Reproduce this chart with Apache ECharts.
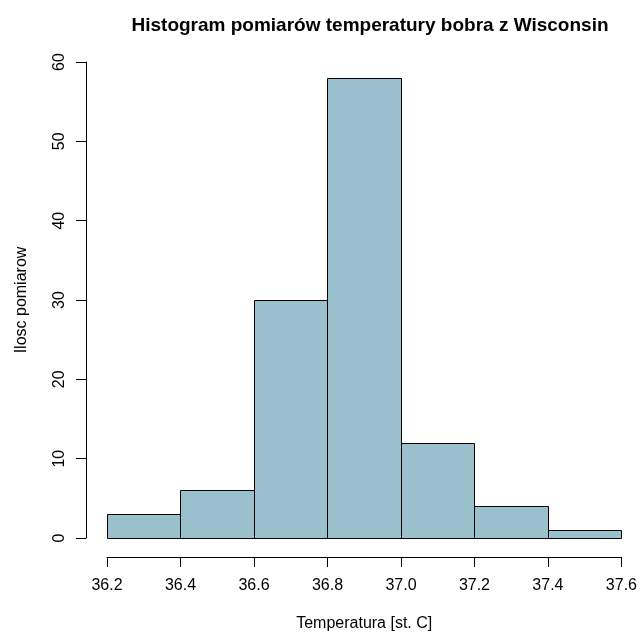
<!DOCTYPE html>
<html><head><meta charset="utf-8">
<script src="https://cdn.jsdelivr.net/npm/echarts@6/dist/echarts.min.js"></script>
<style>html,body{margin:0;padding:0;background:#fff}#c{width:640px;height:637px}</style>
</head><body><div id="c"></div>
<script>
var binStarts = [36.2, 36.4, 36.6, 36.8, 37.0, 37.2, 37.4];
var binEnds   = [36.4, 36.6, 36.8, 37.0, 37.2, 37.4, 37.6];
var counts    = [3, 6, 30, 58, 12, 4, 1];
var xTicks = [36.2, 36.4, 36.6, 36.8, 37.0, 37.2, 37.4, 37.6];
var yTicks = [0, 10, 20, 30, 40, 50, 60];
var titleText = 'Histogram pomiarów temperatury bobra z Wisconsin';
var xName = 'Temperatura [st. C]';
var yName = 'Ilosc pomiarow';

var data = binStarts.map(function(s, i){ return [s, binEnds[i], counts[i]]; });
var font = 'Liberation Sans, Arial, sans-serif';
var chart = echarts.init(document.getElementById('c'), null, {renderer:'canvas'});
chart.setOption({
  animation: false,
  backgroundColor: '#fff',
  title: {text: titleText, left: 365, top: 11, textAlign: 'center',
    textStyle: {fontFamily: font, fontSize: 19, fontWeight: 'bold', color: '#000'}},
  grid: {left: 107, right: 17, top: 62, bottom: 96},
  xAxis: {type: 'value', min: xTicks[0], max: xTicks[xTicks.length-1], interval: 0.2,
    offset: 19,
    name: xName, nameLocation: 'middle', nameGap: 59,
    nameTextStyle: {fontFamily: font, fontSize: 16, color: '#000'},
    axisLine: {show: true, onZero: false, lineStyle: {color: '#000', width: 1}},
    axisTick: {show: true, length: 10, lineStyle: {color: '#000'}},
    splitLine: {show: false},
    axisLabel: {fontFamily: font, fontSize: 16, color: '#000', margin: 21,
      showMinLabel: true, showMaxLabel: true, hideOverlap: false,
      formatter: function(v){ return v.toFixed(1); }}
  },
  yAxis: {type: 'value', min: yTicks[0], max: yTicks[yTicks.length-1], interval: 10,
    offset: 21,
    name: yName, nameLocation: 'middle', nameGap: 56, nameRotate: 90,
    nameTextStyle: {fontFamily: font, fontSize: 16, color: '#000'},
    axisLine: {show: true, onZero: false, lineStyle: {color: '#000', width: 1}},
    axisTick: {show: true, length: 10, lineStyle: {color: '#000'}},
    splitLine: {show: false},
    axisLabel: {fontFamily: font, fontSize: 16, color: '#000', rotate: 90, margin: 18,
      showMinLabel: true, showMaxLabel: true}
  },
  series: [{
    type: 'custom',
    data: data,
    encode: {x: [0, 1], y: 2},
    renderItem: function(params, api){
      var p0 = api.coord([api.value(0), api.value(2)]);
      var p1 = api.coord([api.value(1), 0]);
      return {type: 'rect',
        shape: {x: Math.round(p0[0]) + 0.5, y: Math.round(p0[1]) + 0.5,
                width: Math.round(p1[0]) - Math.round(p0[0]),
                height: Math.round(p1[1]) - Math.round(p0[1])},
        style: {fill: '#9AC0CD', stroke: '#000', lineWidth: 1}};
    }
  }]
});
</script></body></html>
